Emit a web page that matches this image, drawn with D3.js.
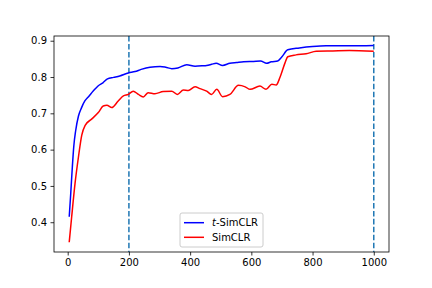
<!DOCTYPE html>
<html>
<head>
<meta charset="utf-8">
<script src="https://cdn.jsdelivr.net/npm/d3@7"></script>
<style>
  body { margin: 0; background: #fff; }
  text { font-family: "DejaVu Sans", sans-serif; }
</style>
</head>
<body>
<svg id="chart" width="432" height="288"></svg>
<script>
// epochs + accuracy
const tEpochs = [5, 10, 15, 20, 26, 35, 45, 56, 70, 84, 100, 115, 130, 150, 170, 198, 220, 240, 269, 302,
  320, 340, 360, 389, 416, 440, 454, 470, 485, 506, 530, 552, 575, 607, 630, 650, 665, 686, 700, 719,
  757, 800, 844, 920, 1000];
const tSimclr = [0.415, 0.48, 0.55, 0.61, 0.652, 0.692, 0.715, 0.734, 0.748, 0.762, 0.776, 0.784, 0.795, 0.799, 0.803, 0.811, 0.815, 0.821, 0.827, 0.829,
  0.827, 0.823, 0.825, 0.834, 0.830, 0.831, 0.832, 0.835, 0.838, 0.832, 0.838, 0.840, 0.842, 0.843, 0.844, 0.838, 0.842, 0.844, 0.856, 0.875,
  0.880, 0.884, 0.886, 0.886, 0.887];

const sEpochs = [5, 13, 24, 35, 46, 57, 78, 100, 116, 128, 144, 165, 182, 198, 214, 231, 247, 263, 285, 312,
  340, 358, 378, 394, 416, 432, 454, 470, 487, 506, 530, 558, 580, 596, 628, 648, 667, 681, 694, 710,
  719, 746, 779, 812, 866, 920, 1000];
const simclr = [0.345, 0.415, 0.507, 0.579, 0.640, 0.667, 0.684, 0.702, 0.720, 0.722, 0.716, 0.734, 0.748, 0.752, 0.761, 0.752, 0.745, 0.757, 0.754, 0.760,
  0.761, 0.752, 0.764, 0.763, 0.773, 0.768, 0.761, 0.752, 0.766, 0.746, 0.752, 0.777, 0.773, 0.766, 0.775, 0.766, 0.780, 0.778, 0.800, 0.839,
  0.856, 0.861, 0.864, 0.871, 0.872, 0.873, 0.871];

const vLines = [200, 1000];
const xTicks = [0, 200, 400, 600, 800, 1000];
const yTicks = [0.4, 0.5, 0.6, 0.7, 0.8, 0.9];

const svg = d3.select('#chart');
const m = { left: 54, right: 389, top: 36, bottom: 252 };

const x = d3.scaleLinear().domain([-44.75, 1049.75]).range([m.left, m.right]);
const y = d3.scaleLinear().domain([0.318, 0.913]).range([m.bottom, m.top]);

svg.append('defs').append('clipPath').attr('id', 'clip')
  .append('rect').attr('x', m.left).attr('y', m.top)
  .attr('width', m.right - m.left).attr('height', m.bottom - m.top);

const plot = svg.append('g').attr('clip-path', 'url(#clip)');

vLines.forEach(v => {
  plot.append('line')
    .attr('x1', x(v)).attr('x2', x(v))
    .attr('y1', m.top).attr('y2', m.bottom)
    .attr('stroke', '#1f77b4')
    .attr('stroke-width', 1.5)
    .attr('stroke-dasharray', '5.55,2.4');
});

const line = d3.line()
  .x(d => x(d[0]))
  .y(d => y(d[1]))
  .curve(d3.curveMonotoneX);

plot.append('path')
  .datum(d3.zip(tEpochs, tSimclr))
  .attr('d', line)
  .attr('fill', 'none')
  .attr('stroke', '#0000ff')
  .attr('stroke-width', 1.5);

plot.append('path')
  .datum(d3.zip(sEpochs, simclr))
  .attr('d', line)
  .attr('fill', 'none')
  .attr('stroke', '#ff0000')
  .attr('stroke-width', 1.5);

// axes
const xAxis = svg.append('g')
  .attr('transform', `translate(0,${m.bottom})`)
  .call(d3.axisBottom(x).tickValues(xTicks).tickSize(3.5).tickPadding(3.5).tickFormat(d3.format('d')));
const yAxis = svg.append('g')
  .attr('transform', `translate(${m.left},0)`)
  .call(d3.axisLeft(y).tickValues(yTicks).tickSize(3.5).tickPadding(3.5).tickFormat(d3.format('.1f')));

[xAxis, yAxis].forEach(a => {
  a.select('.domain').remove();
  a.selectAll('line').attr('stroke', '#000').attr('stroke-width', 0.8);
  a.selectAll('text').attr('font-size', 10).attr('fill', '#000')
    .style('font-family', '"DejaVu Sans", sans-serif');
});

svg.append('rect')
  .attr('x', m.left).attr('y', m.top)
  .attr('width', m.right - m.left).attr('height', m.bottom - m.top)
  .attr('fill', 'none').attr('stroke', '#000').attr('stroke-width', 0.8);

// legend
const lg = svg.append('g').attr('transform', 'translate(180,213)');
lg.append('rect')
  .attr('width', 83).attr('height', 34).attr('rx', 2)
  .attr('fill', '#fff').attr('fill-opacity', 0.8)
  .attr('stroke', '#cccccc').attr('stroke-width', 1);

const items = [
  { color: '#0000ff', label: 'SimCLR', italic: 't' },
  { color: '#ff0000', label: 'SimCLR', italic: null }
];
items.forEach((it, i) => {
  const yy = 9.7 + i * 14.6;
  lg.append('line')
    .attr('x1', 4).attr('x2', 24).attr('y1', yy).attr('y2', yy)
    .attr('stroke', it.color).attr('stroke-width', 1.5);
  const t = lg.append('text')
    .attr('x', 32).attr('y', yy + 3.6)
    .attr('font-size', 10).attr('fill', '#000');
  if (it.italic) {
    t.append('tspan').attr('font-style', 'italic').text(it.italic);
    t.append('tspan').text('-' + it.label);
  } else {
    t.text(it.label);
  }
});
</script>
</body>
</html>
